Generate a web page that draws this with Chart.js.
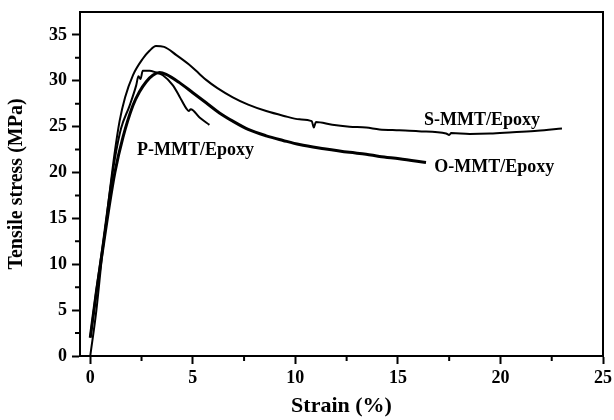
<!DOCTYPE html>
<html>
<head>
<meta charset="utf-8">
<script src="https://cdn.jsdelivr.net/npm/chart.js@4.4.0/dist/chart.umd.min.js"></script>
<style>
  html, body { margin: 0; padding: 0; background: #fff; }
  #wrap { width: 614px; height: 420px; }
</style>
</head>
<body>
<div id="wrap"><canvas id="stressChart" width="614" height="420"></canvas></div>
<script>
// Tensile stress vs strain for the three MMT/Epoxy samples
const sStrain = [0, 0.3, 0.58, 0.9, 1.2, 1.43, 1.7, 2.08, 2.56, 2.9, 3.2, 3.6, 4.2, 4.8, 5.3, 5.65, 6.2, 6.95, 7.7, 8.58, 9.4, 10.2, 10.8, 10.9, 11.0, 11.8, 12.64, 13.45, 14.1, 15.07, 16.0, 17.35, 17.5, 17.6, 18.5, 19.5, 20.6, 21.8, 23.0];
const sStress = [0, 5, 11, 17, 22.3, 25.6, 28.2, 30.6, 32.4, 33.3, 33.8, 33.7, 32.8, 31.8, 30.8, 30.1, 29.2, 28.2, 27.4, 26.7, 26.2, 25.8, 25.6, 24.9, 25.5, 25.2, 25.0, 24.9, 24.7, 24.6, 24.5, 24.25, 24.1, 24.3, 24.2, 24.25, 24.4, 24.55, 24.8];

const oStrain = [0, 0.3, 0.6, 0.9, 1.2, 1.59, 2.08, 2.4, 2.73, 3.05, 3.38, 3.7, 4.35, 5.0, 5.65, 6.3, 6.95, 7.7, 8.58, 9.4, 10.2, 11.4, 12.64, 13.45, 14.1, 15.07, 16.37];
const oStress = [2, 7, 11.5, 16, 20, 23.8, 27.3, 28.8, 29.9, 30.6, 30.9, 30.7, 29.8, 28.7, 27.6, 26.5, 25.6, 24.7, 24.0, 23.5, 23.05, 22.6, 22.2, 22.0, 21.75, 21.5, 21.1];

const pStrain = [0, 0.3, 0.6, 0.9, 1.2, 1.5, 1.92, 2.24, 2.35, 2.45, 2.56, 2.89, 3.2, 3.54, 4.03, 4.35, 4.68, 4.8, 4.9, 5.33, 5.81];
const pStress = [2, 7.2, 12, 17, 21.5, 24.8, 27.3, 29.5, 30.5, 30.2, 31.1, 31.1, 30.9, 30.6, 29.5, 28.3, 27.0, 26.7, 26.9, 26.0, 25.2];

const xTicks = [0, 5, 10, 15, 20, 25];
const yTicks = [0, 5, 10, 15, 20, 25, 30, 35];
const xMinor = [2.5, 7.5, 12.5, 17.5, 22.5];
const yMinor = [2.5, 7.5, 12.5, 17.5, 22.5, 27.5, 32.5];

const curveLabels = [
    { text: 'S-MMT/Epoxy', x: 19.1, y: 25.7 },
    { text: 'O-MMT/Epoxy', x: 19.7, y: 20.6 },
    { text: 'P-MMT/Epoxy', x: 5.13, y: 22.4 }
];

const toPoints = (xs, ys) => xs.map((x, i) => ({ x: x, y: ys[i] }));
const serif = 'Liberation Serif, Times New Roman, serif';

// frame, minor ticks and curve labels
const extras = {
    id: 'extras',
    afterDraw(chart) {
        const ctx = chart.ctx;
        const a = chart.chartArea;
        const xs = chart.scales.x;
        const ys = chart.scales.y;
        ctx.save();
        ctx.strokeStyle = '#000';
        ctx.lineWidth = 2;
        ctx.strokeRect(a.left, a.top, a.right - a.left, a.bottom - a.top);
        ctx.beginPath();
        xMinor.forEach(v => {
            const px = xs.getPixelForValue(v);
            ctx.moveTo(px, a.bottom);
            ctx.lineTo(px, a.bottom + 5);
        });
        yMinor.forEach(v => {
            const py = ys.getPixelForValue(v);
            ctx.moveTo(a.left, py);
            ctx.lineTo(a.left - 5, py);
        });
        ctx.stroke();
        ctx.fillStyle = '#000';
        ctx.font = 'bold 18px ' + serif;
        ctx.textAlign = 'center';
        ctx.textBaseline = 'middle';
        curveLabels.forEach(l => {
            ctx.fillText(l.text, xs.getPixelForValue(l.x), ys.getPixelForValue(l.y));
        });
        ctx.restore();
    }
};

const lineStyle = {
    showLine: true,
    borderColor: '#000',
    pointRadius: 0,
    cubicInterpolationMode: 'monotone'
};

const ctx = document.getElementById('stressChart').getContext('2d');
new Chart(ctx, {
    type: 'scatter',
    data: {
        datasets: [
            { ...lineStyle, label: 'S-MMT/Epoxy', data: toPoints(sStrain, sStress), borderWidth: 2 },
            { ...lineStyle, label: 'O-MMT/Epoxy', data: toPoints(oStrain, oStress), borderWidth: 3 },
            { ...lineStyle, label: 'P-MMT/Epoxy', data: toPoints(pStrain, pStress), borderWidth: 2 }
        ]
    },
    options: {
        responsive: false,
        animation: false,
        layout: { padding: { top: 12, right: 11, left: 0, bottom: 0 } },
        plugins: {
            legend: { display: false },
            tooltip: { enabled: false }
        },
        scales: {
            x: {
                type: 'linear',
                min: -0.5,
                max: 25,
                afterBuildTicks: scale => { scale.ticks = xTicks.map(v => ({ value: v })); },
                afterFit: scale => { scale.height = 64; scale.paddingLeft = 0; scale.paddingRight = 0; },
                border: { display: true, color: '#000', width: 2 },
                grid: { drawOnChartArea: false, drawTicks: true, tickLength: 8, tickColor: '#000', tickWidth: 2 },
                ticks: {
                    color: '#000',
                    padding: 4,
                    maxRotation: 0,
                    font: { family: serif, size: 18, weight: 'bold' }
                },
                title: {
                    display: true,
                    text: 'Strain (%)',
                    color: '#000',
                    padding: { top: 0, bottom: 0 },
                    font: { family: serif, size: 22, weight: 'bold' }
                }
            },
            y: {
                type: 'linear',
                min: 0,
                max: 37.5,
                afterBuildTicks: scale => { scale.ticks = yTicks.map(v => ({ value: v })); },
                afterFit: scale => { scale.width = 80; scale.paddingTop = 0; scale.paddingBottom = 0; },
                border: { display: true, color: '#000', width: 2 },
                grid: { drawOnChartArea: false, drawTicks: true, tickLength: 8, tickColor: '#000', tickWidth: 2 },
                ticks: {
                    color: '#000',
                    padding: 5,
                    font: { family: serif, size: 18, weight: 'bold' }
                },
                title: {
                    display: true,
                    text: 'Tensile stress (MPa)',
                    color: '#000',
                    padding: { top: 5, bottom: 0 },
                    font: { family: serif, size: 20, weight: 'bold' }
                }
            }
        }
    },
    plugins: [extras]
});
</script>
</body>
</html>
